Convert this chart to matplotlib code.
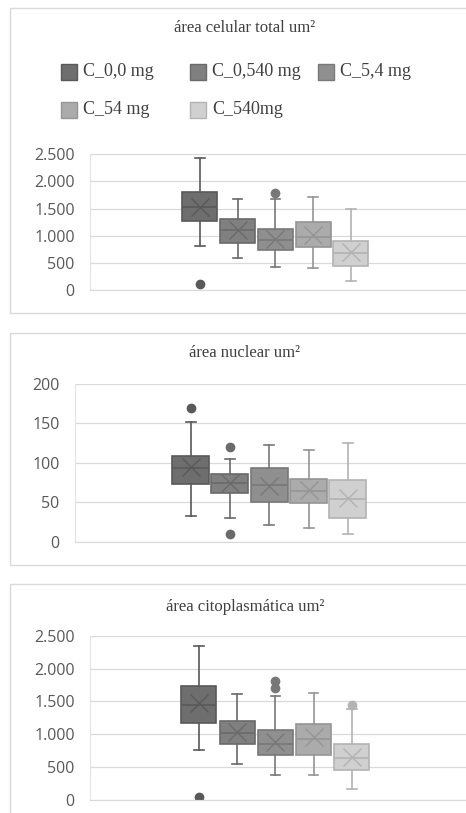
import matplotlib
matplotlib.use("Agg")
import matplotlib.pyplot as plt
from matplotlib.patches import Rectangle

W, H = 466, 813

groups = ["C_0,0 mg", "C_0,540 mg", "C_5,4 mg", "C_54 mg", "C_540mg"]
face_colors = ["#6e6e6e", "#808080", "#8f8f8f", "#ababab", "#d0d0d0"]
edge_colors = ["#595959", "#6a6a6a", "#787878", "#959595", "#b3b3b3"]

# (whislo, q1, med, q3, whishi, mean, fliers) per group
celular = [
    (817, 1278, 1530, 1800, 2426, 1520, [110]),
    (596, 872, 1106, 1302, 1671, 1100, []),
    (430, 737, 915, 1130, 1671, 946, [1781]),
    (400, 786, 970, 1247, 1720, 1013, []),
    (172, 448, 676, 909, 1493, 706, []),
]
nuclear = [
    (32.6, 73.6, 93.4, 108.7, 151.8, 95, [169.6]),
    (30.4, 61.7, 74.4, 85.8, 105.3, 74, [120.5, 9.3]),
    (21.1, 50.3, 72.3, 93.4, 122.6, 71, []),
    (17.3, 48.6, 64.7, 79.5, 116.7, 65.5, []),
    (9.7, 30.4, 54.5, 77.8, 124.7, 56, []),
]
citoplasma = [
    (756, 1177, 1445, 1729, 2343, 1470, [46]),
    (548, 847, 1014, 1207, 1613, 1040, []),
    (380, 680, 857, 1065, 1582, 887, [1810, 1709]),
    (380, 680, 923, 1156, 1633, 963, []),
    (167, 451, 639, 857, 1379, 659, [1445]),
]

panels = [
    # title, data, yticks, ticklabels, frame(top,bottom), title_y, axes(left, top, bottom), box1 x, spacing, box width
    ("área celular total um²", celular, [0, 500, 1000, 1500, 2000, 2500],
     ["0", "500", "1.000", "1.500", "2.000", "2.500"], (8, 313), 28, (90, 154.3, 290), 200, 37.7, 35),
    ("área nuclear um²", nuclear, [0, 50, 100, 150, 200],
     ["0", "50", "100", "150", "200"], (333, 565), 353, (75, 384, 541.7), 190.7, 39.3, 37),
    ("área citoplasmática um²", citoplasma, [0, 500, 1000, 1500, 2000, 2500],
     ["0", "500", "1.000", "1.500", "2.000", "2.500"], (584, 830), 607, (90, 635.7, 800), 199, 38.2, 35),
]

fig = plt.figure(figsize=(W / 100, H / 100), dpi=100)
fig.patch.set_facecolor("white")


def fx(px):
    return px / W


def fy(py):
    return 1 - py / H


for title, data, yticks, ylabels, frame, ty, (al, at, ab), x1, step, bw in panels:
    top, bottom = frame
    fig.patches.append(Rectangle((fx(10), fy(bottom)), fx(500), (bottom - top) / H,
                                 transform=fig.transFigure, fill=False,
                                 edgecolor="#d9d9d9", linewidth=1, zorder=0))
    fig.text(fx(245), fy(ty), title, ha="center", va="center",
             family="Liberation Serif", fontsize=12, color="#404040")

    right = 490
    ax = fig.add_axes([fx(al), fy(ab), fx(right - al), (ab - at) / H])
    ax.set_facecolor("none")
    x_lo = 1 - (x1 - al) / step
    x_hi = 1 + (right - x1) / step
    ax.set_xlim(x_lo, x_hi)
    ax.set_ylim(yticks[0], yticks[-1])

    stats = []
    for d in data:
        lo, q1, med, q3, hi, mean, fl = d
        stats.append(dict(whislo=lo, q1=q1, med=med, q3=q3, whishi=hi,
                          mean=mean, fliers=fl))
    w = bw / step
    for i, s in enumerate(stats):
        ec = edge_colors[i]
        ax.bxp([s], positions=[i + 1], widths=w, showmeans=True,
               patch_artist=True, capwidths=0.25,
               boxprops=dict(facecolor=face_colors[i], edgecolor=ec, linewidth=1.2),
               medianprops=dict(color=ec, linewidth=1.2),
               whiskerprops=dict(color=ec, linewidth=1.2),
               capprops=dict(color=ec, linewidth=1.2),
               meanprops=dict(marker="x", markersize=13, markeredgecolor=ec,
                              markeredgewidth=1.0),
               flierprops=dict(marker="o", markersize=6, markerfacecolor=ec,
                               markeredgecolor=ec))

    ax.set_xticks([])
    ax.set_yticks(yticks)
    ax.set_yticklabels(ylabels, family="Open Sans", fontsize=11.5, color="#595959")
    ax.tick_params(axis="y", length=0, pad=11)
    ax.grid(axis="y", color="#d9d9d9", linewidth=0.9, zorder=0)
    ax.set_axisbelow(True)
    for sp in ["top", "right"]:
        ax.spines[sp].set_visible(False)
    ax.spines["left"].set_color("#e3e3e3")
    ax.spines["bottom"].set_color("#d9d9d9")
    ax.spines["left"].set_linewidth(0.8)
    ax.spines["bottom"].set_linewidth(0.8)

# legend of the first panel, laid out in Excel-like equal columns
leg_cols = [61, 190, 318]
leg_rows = [72, 110]
for k, name in enumerate(groups):
    r, c = divmod(k, 3)
    sx, sy = leg_cols[c], leg_rows[r]
    fig.patches.append(Rectangle((fx(sx), fy(sy + 8)), fx(16), 16 / H,
                                 transform=fig.transFigure,
                                 facecolor=face_colors[k], edgecolor=edge_colors[k],
                                 linewidth=1))
    fig.text(fx(sx + 22), fy(sy), name, ha="left", va="center",
             family="Liberation Serif", fontsize=13, color="#404040")

fig.savefig("out.png", dpi=100)
